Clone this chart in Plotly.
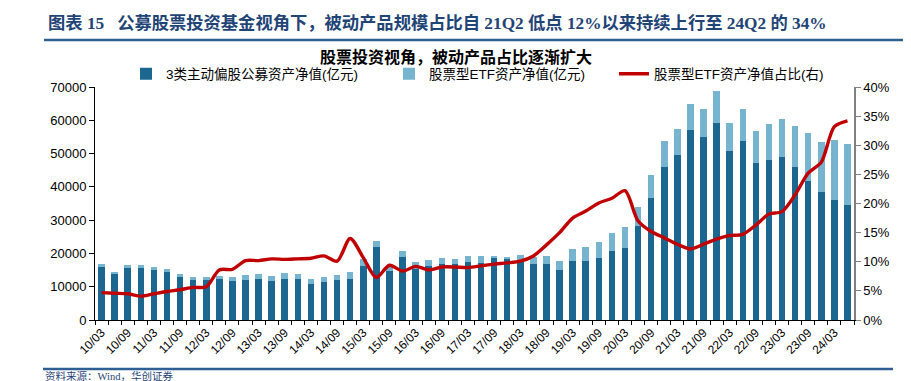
import plotly.graph_objects as go

quarters = [
    "10/03", "10/06", "10/09", "10/12", "11/03", "11/06", "11/09", "11/12",
    "12/03", "12/06", "12/09", "12/12", "13/03", "13/06", "13/09", "13/12",
    "14/03", "14/06", "14/09", "14/12", "15/03", "15/06", "15/09", "15/12",
    "16/03", "16/06", "16/09", "16/12", "17/03", "17/06", "17/09", "17/12",
    "18/03", "18/06", "18/09", "18/12", "19/03", "19/06", "19/09", "19/12",
    "20/03", "20/06", "20/09", "20/12", "21/03", "21/06", "21/09", "21/12",
    "22/03", "22/06", "22/09", "22/12", "23/03", "23/06", "23/09", "23/12",
    "24/03", "24/06",
]

# 3类主动偏股公募资产净值(亿元)
active_nav = [
    16000, 13850, 15750, 15750, 15150, 14550, 13050, 12150,
    12150, 12250, 11850, 12150, 12350, 11650, 12350, 12250,
    10950, 11450, 12050, 12250, 16250, 22000, 14850, 18850,
    15450, 16250, 16850, 16850, 17450, 17050, 18500, 18250,
    17850, 16750, 16750, 15050, 17750, 17850, 18650, 20850,
    21650, 28100, 36800, 46100, 49650, 56950, 54950, 59200,
    50650, 53850, 47250, 47950, 48950, 45850, 41900, 38600,
    36100, 34600,
]

# 股票型ETF资产净值(亿元)
etf_nav = [
    900, 700, 700, 700, 800, 800, 800, 800,
    800, 1100, 1100, 1400, 1500, 1500, 1700, 1600,
    1500, 1500, 1500, 2100, 2000, 1850, 1450, 1800,
    1950, 1800, 1800, 1600, 1800, 2200, 750, 800,
    1700, 2100, 2450, 2700, 3700, 4000, 4800, 5400,
    6200, 5900, 6800, 7650, 7600, 8050, 8450, 9700,
    8650, 9550, 9400, 10850, 11300, 12550, 14250, 14750,
    18050, 18350,
]

# 股票型ETF资产净值占比(右), %
etf_share = [
    4.7, 4.6, 4.5, 4.1, 4.5, 4.9, 5.2, 5.6,
    5.7, 8.6, 8.7, 10.2, 10.2, 10.5, 10.4, 10.5,
    10.6, 11.0, 10.1, 14.0, 10.7, 7.3, 9.4, 8.4,
    9.2, 8.6, 9.1, 9.1, 9.0, 9.3, 9.6, 9.8,
    10.1, 11.0, 12.9, 15.0, 17.5, 18.7, 20.1, 20.9,
    22.2, 17.0, 15.2, 14.1, 13.0, 12.2, 13.0, 13.9,
    14.5, 14.7, 16.3, 18.2, 18.6, 21.5, 25.2, 27.1,
    33.2, 34.2,
]

left_ticks = [0, 10000, 20000, 30000, 40000, 50000, 60000, 70000]
right_ticks = [0, 5, 10, 15, 20, 25, 30, 35, 40]

DARK = "#1B6790"
LIGHT = "#76B4CF"
RED = "#C00000"
NAVY = "#1F4476"
RULE = "#2F5F92"

# The page body adds an 8px offset; targets below are in screenshot pixels.
OFF = 8
W, H = 911, 381
PL, PR, PT, PB = 95 - OFF, 854 - OFF, 87 - OFF, 320 - OFF
def px_x(x):
    return (x - OFF - PL) / (PR - PL)
def px_y(y):
    return (PB - (y - OFF)) / (PB - PT)

fig = go.Figure()
fig.add_trace(go.Bar(
    x=quarters, y=active_nav, name="3类主动偏股公募资产净值(亿元)",
    marker=dict(color=DARK, line=dict(width=0)), legend="legend",
))
fig.add_trace(go.Bar(
    x=quarters, y=etf_nav, name="股票型ETF资产净值(亿元)",
    marker=dict(color=LIGHT, line=dict(width=0)), legend="legend2",
))
fig.add_trace(go.Scatter(
    x=quarters, y=etf_share, name="股票型ETF资产净值占比(右)", yaxis="y2",
    mode="lines", line=dict(color=RED, width=3.4, shape="spline", smoothing=0.8),
    legend="legend3",
))

tick_text = [q if i % 2 == 0 else "" for i, q in enumerate(quarters)]

legend_font = dict(family="Liberation Sans, Noto Sans CJK SC", size=13.5, color="#000000")
legend_common = dict(orientation="h", yanchor="middle", xanchor="left",
                     font=legend_font, bgcolor="rgba(0,0,0,0)", borderwidth=0)

fig.update_layout(
    width=W, height=H,
    margin=dict(l=PL, r=W - PR, t=PT, b=H - PB, pad=0, autoexpand=False),
    paper_bgcolor="white", plot_bgcolor="white",
    barmode="stack", bargap=0.5,
    showlegend=True,
    legend=dict(x=px_x(126), y=px_y(74), **legend_common),
    legend2=dict(x=px_x(389), y=px_y(74), **legend_common),
    legend3=dict(x=px_x(614), y=px_y(74), **legend_common),
    xaxis=dict(
        type="category", categoryorder="array", categoryarray=quarters,
        tickmode="array", tickvals=quarters, ticktext=tick_text,
        tickson="boundaries", ticks="outside", ticklen=4, tickcolor="#000000",
        tickangle=-45, showline=True, linecolor="#000000", linewidth=1,
        showgrid=False, zeroline=False, automargin=False,
        tickfont=dict(family="Liberation Sans", size=12, color="#000000"),
    ),
    yaxis=dict(
        range=[0, 70000], tickmode="array", tickvals=left_ticks,
        ticktext=[str(v) for v in left_ticks],
        ticks="outside", ticklen=5, tickcolor="#000000",
        showline=True, linecolor="#000000", linewidth=1,
        showgrid=False, zeroline=False, automargin=False,
        tickfont=dict(family="Liberation Sans", size=13, color="#000000"),
    ),
    yaxis2=dict(
        overlaying="y", side="right", range=[0, 40],
        tickmode="array", tickvals=right_ticks,
        ticktext=[f"{v}%" for v in right_ticks],
        ticks="outside", ticklen=5, tickcolor="#808080",
        showline=True, linecolor="#808080", linewidth=1.5,
        showgrid=False, zeroline=False, automargin=False,
        tickfont=dict(family="Liberation Sans", size=13, color="#000000"),
    ),
)

fig.add_annotation(
    xref="paper", yref="paper", x=px_x(46), y=px_y(23),
    xanchor="left", yanchor="middle", showarrow=False,
    text="<b>图表 15   公募股票投资基金视角下，被动产品规模占比自 21Q2 低点 12%以来持续上行至 24Q2 的 34%</b>",
    font=dict(family="Liberation Serif, Noto Sans CJK SC", size=17.3, color=NAVY),
)
fig.add_annotation(
    xref="paper", yref="paper", x=px_x(456), y=px_y(57),
    xanchor="center", yanchor="middle", showarrow=False,
    text="<b>股票投资视角，被动产品占比逐渐扩大</b>",
    font=dict(family="Liberation Serif, Noto Sans CJK SC", size=16, color="#000000"),
)
fig.add_annotation(
    xref="paper", yref="paper", x=px_x(43), y=px_y(375.5),
    xanchor="left", yanchor="middle", showarrow=False,
    text="资料来源：Wind，华创证券",
    font=dict(family="Liberation Serif, Noto Sans CJK SC", size=10.5, color=NAVY),
)

fig.add_shape(type="line", xref="paper", yref="paper",
              x0=px_x(44), x1=px_x(905), y0=px_y(40), y1=px_y(40),
              line=dict(color=RULE, width=2.5))
fig.add_shape(type="line", xref="paper", yref="paper",
              x0=px_x(43), x1=px_x(893), y0=px_y(369), y1=px_y(369),
              line=dict(color=RULE, width=2.5))

fig.write_html("out.html")
